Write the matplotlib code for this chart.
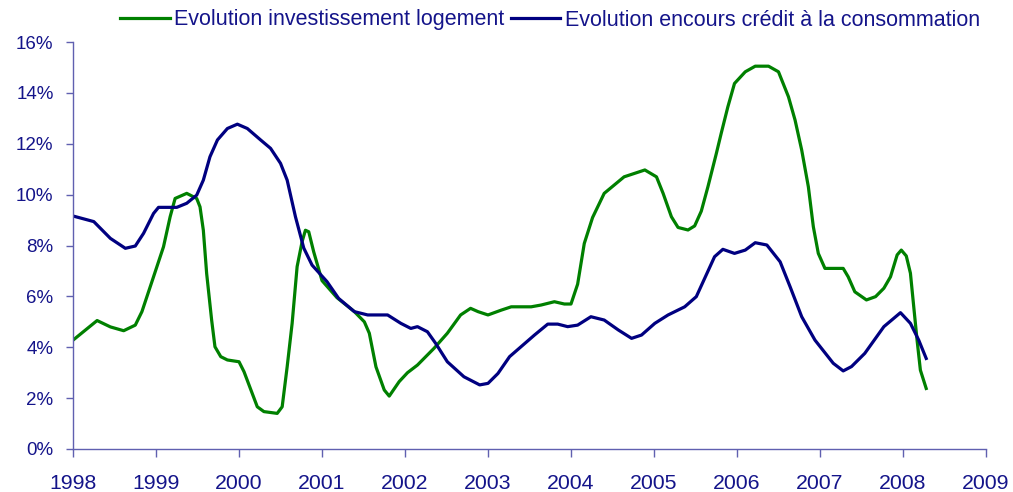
import matplotlib
matplotlib.use("Agg")
import matplotlib.pyplot as plt
from matplotlib.ticker import FuncFormatter

# Series (year, % change)
logement_t = [1998.00, 1998.29, 1998.45, 1998.61, 1998.75, 1998.83, 1998.97, 1999.09,
              1999.17, 1999.23, 1999.37, 1999.49, 1999.53, 1999.57, 1999.61, 1999.67,
              1999.71, 1999.78, 1999.86, 2000.00, 2000.06, 2000.22, 2000.30, 2000.46,
              2000.52, 2000.58, 2000.64, 2000.70, 2000.76, 2000.80, 2000.84, 2000.90,
              2001.00, 2001.18, 2001.39, 2001.51, 2001.57, 2001.65, 2001.75, 2001.81,
              2001.93, 2002.03, 2002.15, 2002.35, 2002.51, 2002.67, 2002.79, 2002.88,
              2003.00, 2003.16, 2003.28, 2003.52, 2003.64, 2003.80, 2003.92, 2004.00,
              2004.08, 2004.16, 2004.26, 2004.40, 2004.64, 2004.89, 2005.03, 2005.11,
              2005.21, 2005.29, 2005.41, 2005.49, 2005.57, 2005.65, 2005.75, 2005.81,
              2005.89, 2005.97, 2006.10, 2006.22, 2006.38, 2006.50, 2006.62, 2006.70,
              2006.78, 2006.86, 2006.92, 2006.98, 2007.06, 2007.28, 2007.34, 2007.42,
              2007.56, 2007.67, 2007.77, 2007.85, 2007.93, 2007.98, 2008.04, 2008.09,
              2008.13, 2008.17, 2008.21, 2008.28]
logement_v = [4.28, 5.05, 4.80, 4.65, 4.87, 5.40, 6.77, 7.95,
              9.13, 9.85, 10.05, 9.85, 9.52, 8.60, 6.90, 5.07,
              4.02, 3.63, 3.50, 3.43, 3.04, 1.66, 1.47, 1.40,
              1.66, 3.23, 4.94, 7.17, 8.15, 8.60, 8.54, 7.75,
              6.62, 5.95, 5.40, 5.00, 4.55, 3.23, 2.32, 2.08,
              2.65, 3.00, 3.30, 3.96, 4.55, 5.27, 5.53, 5.40,
              5.27, 5.46, 5.59, 5.59, 5.66, 5.79, 5.70, 5.70,
              6.48, 8.08, 9.10, 10.05, 10.70, 10.97, 10.70, 10.05,
              9.13, 8.71, 8.61, 8.77, 9.35, 10.31, 11.60, 12.41,
              13.45, 14.37, 14.83, 15.05, 15.05, 14.83, 13.85, 12.93,
              11.75, 10.31, 8.74, 7.69, 7.10, 7.10, 6.77, 6.18,
              5.86, 5.99, 6.32, 6.77, 7.63, 7.82, 7.59, 6.91,
              5.59, 4.28, 3.10, 2.38]

credit_t = [1998.00, 1998.25, 1998.45, 1998.63, 1998.75, 1998.85, 1998.97, 1999.03,
            1999.25, 1999.37, 1999.49, 1999.57, 1999.65, 1999.74, 1999.86, 1999.98,
            2000.10, 2000.26, 2000.38, 2000.50, 2000.58, 2000.68, 2000.78, 2000.88,
            2001.06, 2001.20, 2001.39, 2001.55, 2001.79, 2001.95, 2002.07, 2002.15,
            2002.27, 2002.37, 2002.51, 2002.71, 2002.90, 2003.00, 2003.12, 2003.26,
            2003.56, 2003.72, 2003.84, 2003.96, 2004.08, 2004.24, 2004.40, 2004.57,
            2004.73, 2004.85, 2005.01, 2005.17, 2005.37, 2005.51, 2005.73, 2005.83,
            2005.97, 2006.10, 2006.22, 2006.36, 2006.52, 2006.64, 2006.78, 2006.94,
            2007.16, 2007.28, 2007.38, 2007.54, 2007.77, 2007.97, 2008.09, 2008.19,
            2008.28]
credit_v = [9.16, 8.94, 8.28, 7.89, 7.98, 8.48, 9.26, 9.50,
            9.50, 9.66, 9.98, 10.57, 11.49, 12.15, 12.60, 12.77,
            12.60, 12.15, 11.82, 11.23, 10.57, 9.13, 7.90, 7.23,
            6.58, 5.92, 5.40, 5.27, 5.27, 4.94, 4.74, 4.81,
            4.61, 4.15, 3.43, 2.84, 2.52, 2.58, 2.97, 3.63,
            4.48, 4.91, 4.91, 4.81, 4.87, 5.20, 5.07, 4.68,
            4.35, 4.48, 4.94, 5.27, 5.59, 5.99, 7.56, 7.85,
            7.69, 7.82, 8.11, 8.02, 7.36, 6.38, 5.20, 4.28,
            3.37, 3.07, 3.24, 3.76, 4.81, 5.36, 4.94, 4.28,
            3.56]

years = list(range(1998, 2010))
pct_ticks = [0, 2, 4, 6, 8, 10, 12, 14, 16]

TEXT = "#14148a"
AXIS = "#6060b0"

plt.rcParams['font.family'] = ['Liberation Sans', 'DejaVu Sans']

fig = plt.figure(figsize=(10.13, 4.92), dpi=100)
ax = fig.add_axes([0.0721, 0.0874, 0.9012, 0.8272])

ax.plot(logement_t, logement_v, color="#008000", lw=2.3, solid_joinstyle="round",
        label="Evolution investissement logement")
ax.plot(credit_t, credit_v, color="#000080", lw=2.3, solid_joinstyle="round",
        label="Evolution encours crédit à la consommation")

ax.set_xlim(1998, 2009)
ax.set_ylim(0, 16)
ax.set_xticks(years)
ax.set_yticks(pct_ticks)
ax.yaxis.set_major_formatter(FuncFormatter(lambda v, p: f"{v:.0f}%"))

for s in ["top", "right"]:
    ax.spines[s].set_visible(False)
for s in ["left", "bottom"]:
    ax.spines[s].set_color(AXIS)
    ax.spines[s].set_linewidth(1.0)

ax.tick_params(axis="x", direction="out", length=6, width=1, color=AXIS,
               labelcolor=TEXT, labelsize=15.3, pad=12)
ax.tick_params(axis="y", direction="out", length=5, width=1, color=AXIS,
               labelcolor=TEXT, labelsize=13.5, pad=9)

leg = fig.legend(*ax.get_legend_handles_labels(), loc="center",
                 bbox_to_anchor=(550 / 1013, 1 - 20 / 492), ncol=2, frameon=False,
                 fontsize=15.5, handlelength=2.3, handletextpad=0.2, columnspacing=0.3,
                 borderaxespad=0.0, borderpad=0.0)
for t in leg.get_texts():
    t.set_color(TEXT)

fig.savefig("out.png", dpi=100)
